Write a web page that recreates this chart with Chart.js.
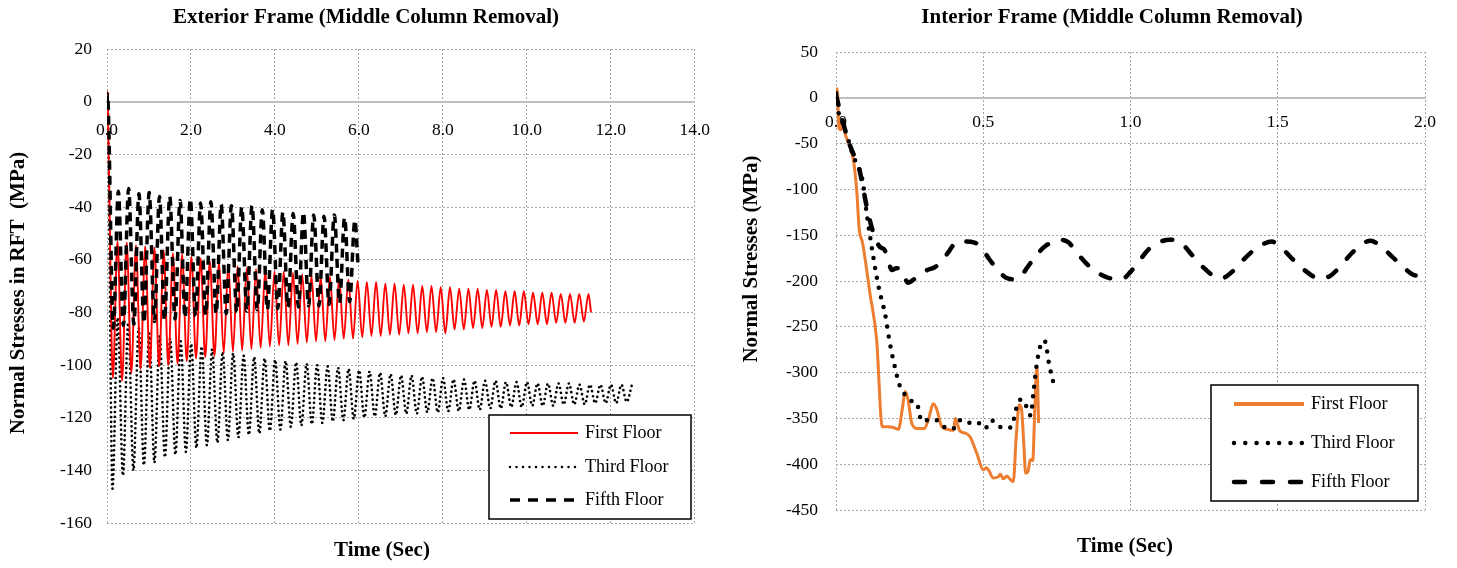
<!DOCTYPE html>
<html><head><meta charset="utf-8">
<script src="https://cdn.jsdelivr.net/npm/chart.js@4.4.1/dist/chart.umd.min.js"></script>
<style>
html,body{margin:0;padding:0;background:#fff;}
#wrap{position:relative;width:1457px;height:568px;overflow:hidden;background:#fff;}
canvas{position:absolute;top:0;}
</style></head><body>
<div id="wrap">
<canvas id="c1" width="728" height="568" style="left:0;width:728px;height:568px"></canvas>
<canvas id="c2" width="729" height="568" style="left:728px;width:729px;height:568px"></canvas>
</div>
<script>
// ---------- Exterior frame (left) ----------
const extFirstTime = [0, 0.01, 0.05, 0.14,
  0.25, 0.36, 0.47, 0.58, 0.69, 0.80, 0.91, 1.02, 1.13, 1.24,
  1.35, 1.46, 1.57, 1.68, 1.79, 1.90, 2.01, 2.12, 2.23, 2.34,
  2.45, 2.56, 2.67, 2.78, 2.89, 3.00, 3.11, 3.22, 3.33, 3.44,
  3.55, 3.66, 3.77, 3.88, 3.99, 4.10, 4.21, 4.32, 4.43, 4.54,
  4.65, 4.76, 4.87, 4.98, 5.09, 5.20, 5.31, 5.42, 5.53, 5.64,
  5.75, 5.86, 5.97, 6.08, 6.19, 6.30, 6.41, 6.52, 6.63, 6.74,
  6.85, 6.96, 7.07, 7.18, 7.29, 7.40, 7.51, 7.62, 7.73, 7.84,
  7.95, 8.06, 8.17, 8.28, 8.39, 8.50, 8.61, 8.72, 8.83, 8.94,
  9.05, 9.16, 9.27, 9.38, 9.49, 9.60, 9.71, 9.82, 9.93, 10.04,
  10.15, 10.26, 10.37, 10.48, 10.59, 10.70, 10.81, 10.92, 11.03, 11.14,
  11.25, 11.36, 11.47, 11.53];
const extFirstStress = [0, 4, -30, -105,
  -53, -106, -53.5, -103, -54.5, -101.5, -55, -101, -55.5, -100.5,
  -56.5, -100, -57.5, -99.5, -58, -98.5, -59, -97.5, -59.5, -97,
  -60.5, -96.5, -61, -95.5, -62, -95, -62.5, -94.5, -63, -94,
  -63.5, -93.5, -64, -93, -64.5, -92.5, -64.5, -92.5, -65, -92,
  -65.5, -91.5, -66, -91, -66.5, -91, -66.5, -90.5, -67, -90,
  -67.5, -90, -68, -89.5, -68.5, -89, -68.5, -89, -69, -88.5,
  -69, -88.5, -69.5, -88, -69.5, -88, -70, -87.5, -70, -87.5,
  -70.5, -88, -70.5, -86.5, -71, -86.5, -71, -86, -71, -86,
  -71.5, -85.5, -71.5, -85.5, -72, -85, -72, -85, -72, -84.5,
  -72.5, -84.5, -72.5, -84.5, -72.5, -84, -73, -84, -73, -84,
  -73, -83.5, -73, -80];

const extThirdTime = [0, 0.01,
  0.13, 0.255, 0.38, 0.505, 0.63, 0.755, 0.88, 1.005,
  1.13, 1.255, 1.38, 1.505, 1.63, 1.755, 1.88, 2.005,
  2.13, 2.255, 2.38, 2.505, 2.63, 2.755, 2.88, 3.005,
  3.13, 3.255, 3.38, 3.505, 3.63, 3.755, 3.88, 4.005,
  4.13, 4.255, 4.38, 4.505, 4.63, 4.755, 4.88, 5.005,
  5.13, 5.255, 5.38, 5.505, 5.63, 5.755, 5.88, 6.005,
  6.13, 6.255, 6.38, 6.505, 6.63, 6.755, 6.88, 7.005,
  7.13, 7.255, 7.38, 7.505, 7.63, 7.755, 7.88, 8.005,
  8.13, 8.255, 8.38, 8.505, 8.63, 8.755, 8.88, 9.005,
  9.13, 9.255, 9.38, 9.505, 9.63, 9.755, 9.88, 10.005,
  10.13, 10.255, 10.38, 10.505, 10.63, 10.755, 10.88, 11.005,
  11.13, 11.255, 11.38, 11.505, 11.63, 11.755, 11.88, 12.005,
  12.13, 12.255, 12.38, 12.505];
const extThirdStress = [0, 3,
  -147, -82, -142, -84, -140, -86, -138, -88,
  -137, -89, -135, -90, -134, -91, -133, -92,
  -131.5, -93, -130.5, -94, -129.5, -95, -128.5, -95.5,
  -127.5, -96.5, -126.5, -97, -126, -97.5, -125, -98,
  -124.5, -98.5, -123.5, -99, -123, -99.5, -122.5, -100,
  -122, -100.5, -121.5, -101, -121, -101.5, -120.5, -102,
  -120, -102.5, -119.5, -103, -119.5, -103.5, -119, -104,
  -118.5, -104, -118.5, -104.5, -118, -105, -118, -105,
  -117.5, -105.5, -117.5, -105.5, -117, -106, -117, -106,
  -116.5, -106, -116.5, -106.5, -116, -106.5, -116, -106.5,
  -115.5, -107, -115.5, -107, -115.5, -107, -115, -107,
  -115, -107.5, -115, -107.5, -114.5, -107.5, -114.5, -107.5,
  -114.5, -107.5, -114, -107.5];

const extFifthTime = [0, 0.01, 0.15, 0.27, 0.39, 0.515, 0.64, 0.76, 0.88, 1.005,
  1.13, 1.25, 1.37, 1.495, 1.62, 1.74, 1.86, 1.985, 2.11, 2.23,
  2.35, 2.475, 2.60, 2.72, 2.84, 2.965, 3.09, 3.21, 3.33, 3.455,
  3.58, 3.70, 3.82, 3.945, 4.07, 4.19, 4.31, 4.435, 4.56, 4.68,
  4.80, 4.925, 5.05, 5.17, 5.29, 5.415, 5.54, 5.66, 5.78, 5.905, 5.98];
const extFifthStress = [0, 3, -86, -34, -85, -33, -84.5, -35, -84, -34.5,
  -83.5, -36, -83, -36, -82.5, -37.5, -82, -37, -81.5, -38.5,
  -81, -38, -80.5, -39, -80.5, -39.5, -80, -40, -79.5, -39.5,
  -79, -41, -79, -41, -78.5, -42, -78, -42.5, -78, -42,
  -77.5, -43, -77.5, -43.5, -77, -43, -76.5, -44, -76, -45, -62];

// ---------- Interior frame (right) ----------
const intFirstTime = [0, 0.004, 0.010, 0.017, 0.022, 0.030, 0.045, 0.059, 0.070, 0.079,
  0.090, 0.115, 0.138, 0.157, 0.175, 0.195, 0.212, 0.225, 0.235, 0.245,
  0.257, 0.275, 0.300, 0.315, 0.330, 0.342, 0.359, 0.380, 0.399, 0.405,
  0.412, 0.421, 0.440, 0.455, 0.478, 0.500, 0.511, 0.519, 0.534, 0.550,
  0.558, 0.568, 0.580, 0.590, 0.602, 0.612, 0.622, 0.630, 0.638, 0.644,
  0.652, 0.660, 0.668, 0.675, 0.682, 0.688];
const intFirstStress = [8, 10, -33, -35, -25, -38, -52, -68, -100, -144,
  -158, -213, -264, -359, -359, -360, -362, -340, -321, -330,
  -355, -361, -361, -350, -334, -340, -359, -362, -363, -350,
  -356, -364, -366, -370, -388, -406, -404, -407, -415, -414,
  -411, -416, -413, -416, -419, -370, -335, -340, -380, -410,
  -408, -395, -396, -340, -294, -355];

const intThirdTime = [0, 0.008, 0.020, 0.042, 0.059, 0.075, 0.090, 0.104, 0.115, 0.132,
  0.147, 0.166, 0.183, 0.200, 0.217, 0.240, 0.257, 0.274, 0.291, 0.314,
  0.340, 0.365, 0.399, 0.421, 0.444, 0.478, 0.506, 0.528, 0.545, 0.565,
  0.593, 0.606, 0.613, 0.630, 0.648, 0.661, 0.670, 0.679, 0.693, 0.708,
  0.716, 0.722, 0.738];
const intThirdStress = [5, -15, -25, -46, -64, -75, -90, -126, -150, -184,
  -210, -235, -268, -294, -315, -326, -331, -333, -353, -352,
  -352, -359, -361, -352, -355, -354, -361, -352, -357, -360,
  -360, -348, -338, -329, -338, -347, -323, -297, -272, -265,
  -275, -288, -311];

const intFifthTime = [0, 0.02, 0.04, 0.06, 0.075, 0.09, 0.105, 0.12, 0.135, 0.15,
  0.165, 0.175, 0.19, 0.205, 0.22, 0.245, 0.265, 0.285, 0.31, 0.335,
  0.36, 0.385, 0.41, 0.44, 0.47, 0.49, 0.52, 0.55, 0.575, 0.60,
  0.625, 0.65, 0.68, 0.71, 0.74, 0.765, 0.79, 0.82, 0.86, 0.90,
  0.935, 0.975, 1.0, 1.03, 1.06, 1.095, 1.134, 1.17, 1.21, 1.25,
  1.285, 1.31, 1.345, 1.38, 1.42, 1.455, 1.48, 1.51, 1.55, 1.59,
  1.64, 1.675, 1.71, 1.75, 1.785, 1.815, 1.85, 1.89, 1.93, 1.97, 2.0];
const intFifthStress = [3, -22, -45, -62, -72, -95, -120, -140, -155, -163,
  -166, -175, -188, -186, -187, -202, -198, -193, -188, -185,
  -178, -167, -157, -157, -158, -162, -176, -188, -196, -198,
  -196, -185, -172, -162, -157, -155, -158, -170, -184, -193,
  -197, -197, -190, -178, -166, -158, -155, -158, -172, -186,
  -195, -197, -190, -178, -166, -159, -157, -163, -176, -188,
  -197, -195, -185, -170, -160, -156, -162, -174, -186, -194, -194];

const seriesNames = ['First Floor', 'Third Floor', 'Fifth Floor'];
const extTitle = 'Exterior Frame (Middle Column Removal)';
const intTitle = 'Interior Frame (Middle Column Removal)';
const extYTitle = 'Normal Stresses in RFT  (MPa)';
const intYTitle = 'Normal Stresses (MPa)';
const xTitleText = 'Time (Sec)';

function pts(ts, vs){ return ts.map((t,i)=>({x:t, y:vs[i]})); }

const SERIF = '"Liberation Serif", "Times New Roman", serif';
const GRID = '#a6a6a6';

function decor(d){
  return {id:'decor', afterDraw(chart){
    const ctx = chart.ctx;
    ctx.save();
    ctx.fillStyle = '#000';
    ctx.textAlign = 'center';
    ctx.textBaseline = 'middle';
    ctx.font = 'bold 21px ' + SERIF;
    ctx.fillText(d.title, d.titleX, d.titleY);
    ctx.fillText(xTitleText, d.xTitleX, d.xTitleY);
    ctx.save();
    ctx.translate(d.yTitleX, d.yTitleY);
    ctx.rotate(-Math.PI/2);
    ctx.fillText(d.yTitle, 0, 0);
    ctx.restore();
    const L = d.legend;
    ctx.fillStyle = '#fff';
    ctx.fillRect(L.x, L.y, L.w, L.h);
    ctx.strokeStyle = '#000';
    ctx.lineWidth = 1.5;
    ctx.strokeRect(L.x, L.y, L.w, L.h);
    chart.data.datasets.forEach((ds, i) => {
      const y = L.rows[i];
      ctx.save();
      ctx.beginPath();
      ctx.strokeStyle = ds.borderColor;
      ctx.lineWidth = L.widths[i];
      ctx.setLineDash(L.dashes[i]);
      ctx.lineCap = ds.borderCapStyle || 'butt';
      ctx.moveTo(L.lx1, y); ctx.lineTo(L.lx2, y);
      ctx.stroke();
      ctx.restore();
      ctx.fillStyle = '#000';
      ctx.textAlign = 'left';
      ctx.textBaseline = 'middle';
      ctx.font = '18px ' + SERIF;
      ctx.fillText(ds.label, L.tx, y);
    });
    ctx.restore();
  }};
}

function makeChart(id, datasets, sc, pad, yWidth, d){
  return new Chart(document.getElementById(id), {
    type: 'line',
    data: {datasets},
    options: {
      responsive: false, animation: false, devicePixelRatio: 1,
      layout: {padding: pad},
      plugins: {legend: {display: false}, tooltip: {enabled: false}, title: {display: false}},
      elements: {point: {radius: 0}, line: {cubicInterpolationMode: 'monotone'}},
      scales: {
        x: {type: 'linear', position: {y: 0}, min: sc.xmin, max: sc.xmax,
          ticks: {stepSize: sc.xstep, callback: v => Number(v).toFixed(1), autoSkip: false, maxRotation: 0,
                  font: {family: SERIF, size: 17.5}, color: '#000', padding: sc.xpad},
          grid: {color: GRID, lineWidth: 1, drawTicks: false},
          border: {display: true, color: '#bfbfbf', width: 2, dash: [2, 2]}},
        y: {type: 'linear', min: sc.ymin, max: sc.ymax,
          ticks: {stepSize: sc.ystep, autoSkip: false, font: {family: SERIF, size: 17.5}, color: '#000', padding: sc.ypad},
          grid: {color: GRID, lineWidth: 1, drawTicks: false},
          border: {display: false, dash: [2, 2]},
          afterFit: s => { s.width = yWidth; }}
      }
    },
    plugins: [decor(d)]
  });
}

makeChart('c1', [
  {label: seriesNames[0], data: pts(extFirstTime, extFirstStress), borderColor: '#ff0000', borderWidth: 1.9, order: 1},
  {label: seriesNames[1], data: pts(extThirdTime, extThirdStress), borderColor: '#000', borderWidth: 2.7, borderDash: [0, 4.8], borderCapStyle: 'round', order: 2},
  {label: seriesNames[2], data: pts(extFifthTime, extFifthStress), borderColor: '#000', borderWidth: 3.5, borderDash: [9, 6], order: 0}
], {xmin: 0, xmax: 14, xstep: 2, ymin: -160, ymax: 20, ystep: 20, xpad: 18, ypad: 15},
  {left: 0, right: 31, top: 49, bottom: 45}, 107,
  {title: extTitle, titleX: 366, titleY: 18, xTitleX: 382, xTitleY: 551, yTitle: extYTitle, yTitleX: 19, yTitleY: 293,
   legend: {x: 489, y: 415, w: 202, h: 104, rows: [433, 467, 500], lx1: 510, lx2: 578, tx: 585,
            widths: [2, 2.5, 3.5], dashes: [[], [0, 6.5], [10, 8]]}});

makeChart('c2', [
  {label: seriesNames[0], data: pts(intFirstTime, intFirstStress), borderColor: '#ED7D31', borderWidth: 3, order: 2},
  {label: seriesNames[1], data: pts(intThirdTime, intThirdStress), borderColor: '#000', borderWidth: 4.5, borderDash: [0, 10], borderCapStyle: 'round', order: 1},
  {label: seriesNames[2], data: pts(intFifthTime, intFifthStress), borderColor: '#000', borderWidth: 4.5, borderDash: [10, 16], borderCapStyle: 'round', order: 0}
], {xmin: 0, xmax: 2, xstep: 0.5, ymin: -450, ymax: 50, ystep: 50, xpad: 14.5, ypad: 18},
  {left: 0, right: 32, top: 52, bottom: 58}, 108,
  {title: intTitle, titleX: 384, titleY: 18, xTitleX: 397, xTitleY: 547, yTitle: intYTitle, yTitleX: 24, yTitleY: 259,
   legend: {x: 483, y: 385, w: 207, h: 116, rows: [404, 443, 482], lx1: 506, lx2: 576, tx: 583,
            widths: [4, 4.5, 4.5], dashes: [[], [0, 11.3], [11, 17]]}});
</script>
</body></html>
